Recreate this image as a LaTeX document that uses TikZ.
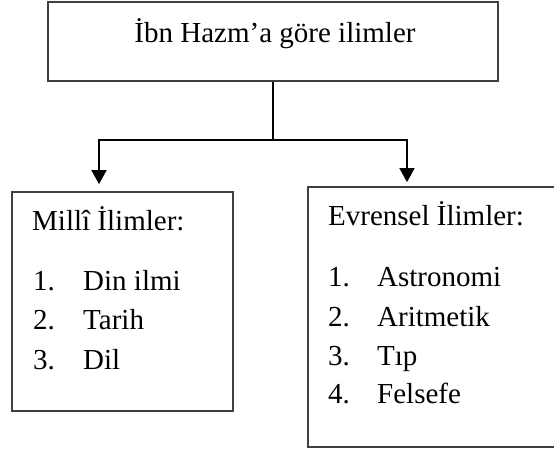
\documentclass[tikz,border=0pt]{standalone}
\usepackage{fontspec}
\setmainfont{Liberation Serif}
\usetikzlibrary{arrows.meta,positioning}

\tikzset{
  box/.style={draw=black!75, line width=1.8pt, inner sep=0pt},
  line/.style={line width=1.8pt},
  arrow/.style={line, -{Triangle[width=15pt,length=14pt]}},
  label/.style={anchor=base west, inner sep=0pt, font=\fontsize{29}{35}\selectfont},
}

\begin{document}
\begin{tikzpicture}[x=1pt,y=-1pt]
  \clip (0,0) rectangle (554,450);

  % boxes
  \node[box, minimum width=450pt, minimum height=79pt] (top) at (273,41.5) {};
  \node[box, minimum width=221pt, minimum height=219pt] (milli) at (122.5,301.5) {};
  \node[box, minimum width=250pt, minimum height=260pt] (evrensel) at (433,317) {};

  % heading
  \node[label, anchor=base] (baslik) at (275,42) {İbn Hazm’a göre ilimler};

  % left list
  \node[label] (milliT) at (32,230) {Millî İlimler:};
  \node[label] (m1n) at (33,290) {1.};
  \node[label] (m1) at (83,290) {Din ilmi};
  \node[label] (m2n) at (33,329) {2.};
  \node[label] (m2) at (83,329) {Tarih};
  \node[label] (m3n) at (33,369) {3.};
  \node[label] (m3) at (83,369) {Dil};

  % right list
  \node[label] (evrenselT) at (328,225) {Evrensel İlimler:};
  \node[label] (e1n) at (328,286) {1.};
  \node[label] (e1) at (377,286) {Astronomi};
  \node[label] (e2n) at (328,326) {2.};
  \node[label] (e2) at (377,326) {Aritmetik};
  \node[label] (e3n) at (328,365) {3.};
  \node[label] (e3) at (377,365) {Tıp};
  \node[label] (e4n) at (328,403) {4.};
  \node[label] (e4) at (377,403) {Felsefe};

  % connectors
  \coordinate (joint) at (273,140);
  \draw[line] (top.south) -- (joint);
  \draw[arrow, shorten >=7pt] (joint) -| ([xshift=-23.5pt]milli.north);
  \draw[arrow, shorten >=4pt] (joint) -| ([xshift=-26pt]evrensel.north);
\end{tikzpicture}
\end{document}
